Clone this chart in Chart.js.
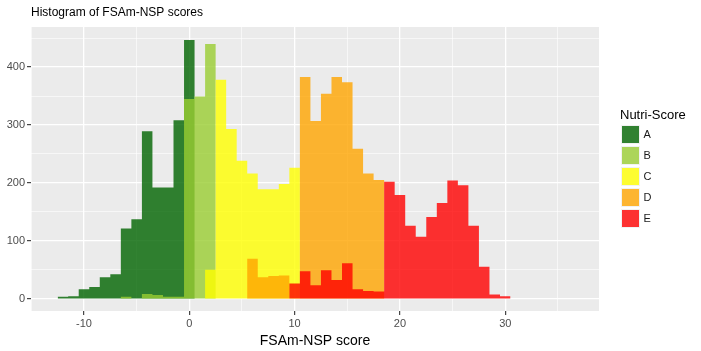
<!DOCTYPE html>
<html><head><meta charset="utf-8">
<script src="https://cdn.jsdelivr.net/npm/chart.js@4.4.1/dist/chart.umd.min.js"></script>
<style>
html,body{margin:0;padding:0;background:#fff;}
#wrap{position:relative;width:701px;height:351px;overflow:hidden;font-family:"Liberation Sans",Arial,sans-serif;}
canvas{position:absolute;left:0;top:0;}
.lg-title{position:absolute;left:620px;top:107px;font-size:13px;line-height:16px;color:#000;white-space:nowrap;}
.key{position:absolute;left:620.5px;width:19px;height:19px;background:#f2f2f2;}
.key i{position:absolute;left:1px;top:1px;right:1px;bottom:1px;}
.lab{position:absolute;left:643.5px;font-size:11px;line-height:13px;color:#1a1a1a;}
</style></head><body>
<div id="wrap"><canvas id="c" width="701" height="351"></canvas><div id="legend"></div></div>
<script>
const chartTitle = "Histogram of FSAm-NSP scores";
const xTitle = "FSAm-NSP score";
const legendTitle = "Nutri-Score";
const grades = ["A", "B", "C", "D", "E"];
const binWidth = 1;
// bin centres
const bins = [-12,-11,-10,-9,-8,-7,-6,-5,-4,-3,-2,-1,0,1,2,3,4,5,6,7,8,9,10,11,12,13,14,15,16,17,18,19,20,21,22,23,24,25,26,27,28,29,30];
const countsA = [3,4,16,20,37,42,121,137,289,192,192,308,447,0,0,0,0,0,0,0,0,0,0,0,0,0,0,0,0,0,0,0,0,0,0,0,0,0,0,0,0,0,0];
const countsB = [0,0,0,0,0,0,3,0,8,6,3,3,345,349,440,0,0,0,0,0,0,0,0,0,0,0,0,0,0,0,0,0,0,0,0,0,0,0,0,0,0,0,0];
const countsC = [0,0,0,0,0,0,0,0,0,0,0,0,0,0,50,378,293,238,216,189,189,198,226,0,0,0,0,0,0,0,0,0,0,0,0,0,0,0,0,0,0,0,0];
const countsD = [0,0,0,0,0,0,0,0,0,0,0,0,0,0,0,0,0,0,69,37,39,40,0,383,307,354,383,374,259,216,205,0,0,0,0,0,0,0,0,0,0,0,0];
const countsE = [0,0,0,0,0,0,0,0,0,0,0,0,0,0,0,0,0,0,0,0,0,0,26,47,23,49,32,61,16,13,12,202,179,126,107,141,165,204,196,126,55,7,4];
const fills = ["rgba(0,100,0,0.8)", "rgba(154,205,50,0.8)", "rgba(255,255,0,0.8)", "rgba(255,165,0,0.8)", "rgba(255,0,0,0.8)"];

const allCounts = [countsA, countsB, countsC, countsD, countsE];
const FONT = '"Liberation Sans", Arial, sans-serif';

// histogram outline: each bin's count held across its width (step), filled down to 0
const datasets = allCounts.map((arr, k) => ({
  label: grades[k],
  data: bins.map((b, i) => ({x: b - binWidth / 2, y: arr[i]}))
            .concat([{x: bins[bins.length - 1] + binWidth / 2, y: 0}]),
  stepped: 'before',
  fill: 'origin',
  backgroundColor: fills[k],
  borderColor: 'rgba(0,0,0,0)',
  borderWidth: 0,
  pointRadius: 0,
  pointHoverRadius: 0,
  tension: 0,
  order: 5 - k
}));

const bgPlugin = {
  id: 'panelBg',
  beforeDraw(chart) {
    const {ctx, chartArea: a} = chart;
    ctx.save();
    ctx.fillStyle = '#EBEBEB';
    ctx.fillRect(a.left, a.top, a.right - a.left, a.bottom - a.top);
    ctx.restore();
  },
  afterDraw(chart) {
    const ctx = chart.ctx;
    ctx.save();
    ctx.font = '12px ' + FONT;
    ctx.fillStyle = '#000';
    ctx.textBaseline = 'middle';
    ctx.textAlign = 'left';
    ctx.fillText(chartTitle, 31, 13);
    ctx.restore();
  }
};

new Chart(document.getElementById('c'), {
  type: 'line',
  data: {datasets},
  plugins: [bgPlugin],
  options: {
    responsive: false,
    animation: false,
    devicePixelRatio: 1,
    layout: {padding: {top: 27, right: 102, left: 0, bottom: 0}},
    plugins: {legend: {display: false}, tooltip: {enabled: false}, title: {display: false},
              filler: {propagate: false}},
    scales: {
      x: {
        type: 'linear',
        min: -15.03, max: 38.9,
        offset: false,
        afterFit(s) { s.height = 40; },
        border: {display: false},
        grid: {
          offset: false,
          color: '#FFFFFF',
          lineWidth: c => (c.tick && c.tick.value % 10 === 0) ? 1.3 : 0.6,
          drawTicks: true,
          tickLength: 4,
          tickColor: c => (c.tick && c.tick.value % 10 === 0) ? '#333333' : 'rgba(0,0,0,0)',
          tickWidth: 1.1
        },
        ticks: {
          stepSize: 5, includeBounds: false, autoSkip: false, maxRotation: 0, minRotation: 0,
          maxTicksLimit: 20, padding: 2,
          color: '#4D4D4D', font: {family: FONT, size: 11},
          callback: v => (v % 10 === 0) ? String(v) : ''
        },
        title: {display: true, text: xTitle, color: '#000', font: {family: FONT, size: 14}, padding: {top: 0, bottom: 1}}
      },
      y: {
        type: 'linear',
        min: -21.5, max: 469.3,
        afterFit(s) { s.width = 31; },
        border: {display: false},
        grid: {
          color: '#FFFFFF',
          lineWidth: c => (c.tick && c.tick.value % 100 === 0) ? 1.3 : 0.6,
          drawTicks: true,
          tickLength: 4,
          tickColor: c => (c.tick && c.tick.value % 100 === 0) ? '#333333' : 'rgba(0,0,0,0)',
          tickWidth: 1.1
        },
        ticks: {
          stepSize: 50, includeBounds: false, autoSkip: false, maxTicksLimit: 20, padding: 2,
          color: '#4D4D4D', font: {family: FONT, size: 11},
          callback: v => (v % 100 === 0) ? String(v) : ''
        }
      }
    }
  }
});

// legend
const lg = document.getElementById('legend');
const t = document.createElement('div');
t.className = 'lg-title'; t.textContent = legendTitle; lg.appendChild(t);
grades.forEach((g, k) => {
  const top = 125.3 + k * 20.9;
  const key = document.createElement('div');
  key.className = 'key'; key.style.top = top + 'px';
  const inner = document.createElement('i'); inner.style.background = fills[k];
  key.appendChild(inner); lg.appendChild(key);
  const lab = document.createElement('div');
  lab.className = 'lab'; lab.textContent = g; lab.style.top = (top + 9.5 - 6.5) + 'px';
  lg.appendChild(lab);
});
</script>
</body></html>
